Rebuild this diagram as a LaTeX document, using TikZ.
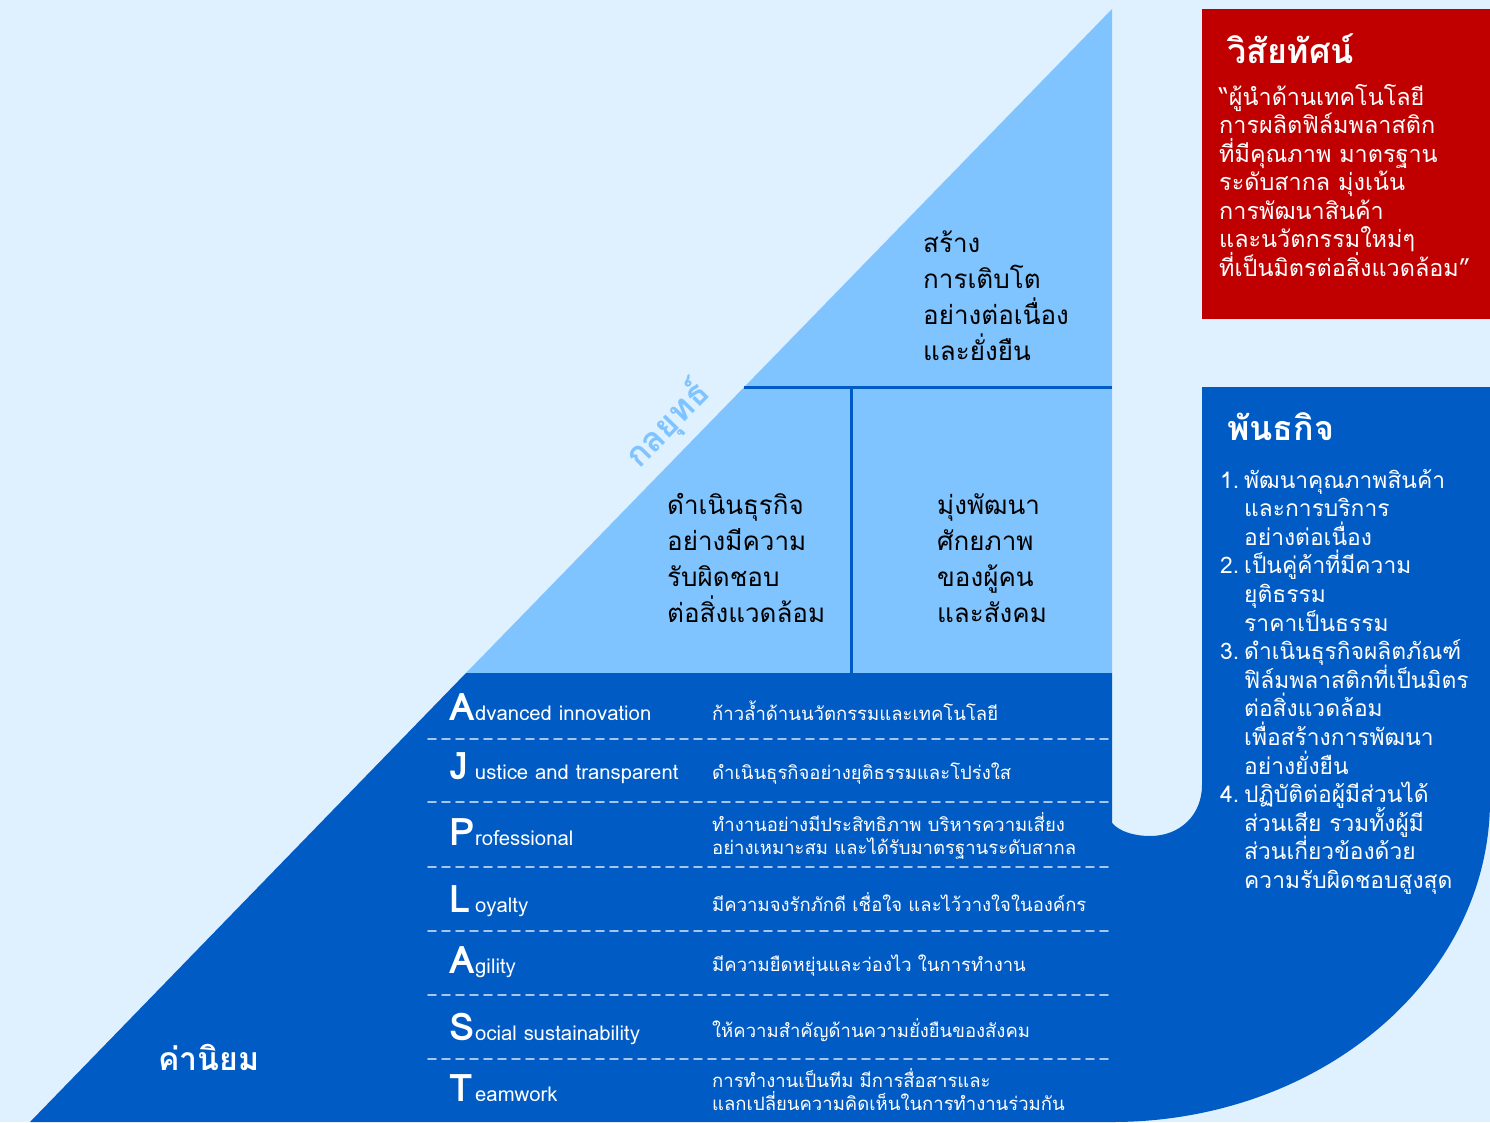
\documentclass[tikz,border=0pt]{standalone}
\usepackage{fontspec}
\setmainfont[Script=Thai]{Loma}
\usetikzlibrary{calc}

\definecolor{pagebg}{HTML}{DFF0FF}
\definecolor{skyblue}{HTML}{80C4FF}
\definecolor{deepblue}{HTML}{005BC4}
\definecolor{visionred}{HTML}{C00000}
\definecolor{dashblue}{HTML}{A6C6EE}

\begin{document}
\begin{tikzpicture}[line cap=round,line join=round,x=1pt,y=-1pt,
    txt/.style={inner sep=0pt, anchor=base west},
    strat/.style={txt, text=black, font=\fontsize{26}{36}\selectfont},
    boxtitle/.style={txt, text=white, font=\fontsize{34}{40}\bfseries\selectfont},
    visionline/.style={txt, text=white, font=\fontsize{23.4}{28}\selectfont},
    boxline/.style={txt, text=white, font=\fontsize{22.8}{28}\selectfont},
    bigletter/.style={txt, text=white, font=\fontsize{38}{40}\bfseries\selectfont},
    smallword/.style={txt, text=white, font=\fontsize{20.3}{24}\selectfont},
    valuedesc/.style={txt, text=white, font=\fontsize{18.5}{24}\selectfont},
    valuesep/.style={dashblue, line width=1.6pt, dash pattern=on 8pt off 6pt}]
    \useasboundingbox (0,0) rectangle (1490,1122);
    \fill[pagebg] (0,0) rectangle (1490,1122);

    % pyramid: light top, dark bottom
    \fill[skyblue] (1112,9) -- (1112,673) -- (466,673) -- cycle;
    \fill[deepblue] (466,673) -- (1112,673) -- (1112,1122) -- (30,1122) -- cycle;
    \draw[deepblue, line width=3pt, line cap=butt] (744,387) -- (1112,387);
    \draw[deepblue, line width=3pt, line cap=butt] (851,387) -- (851,673);

    % mission shape with notch
    \fill[deepblue] (1202,387) -- (1490,387) -- (1490,800)
        .. controls (1490,978) and (1321,1122) .. (1112,1122) -- (1112,823)
        .. controls (1120,832) and (1135,836) .. (1150,836)
        .. controls (1180,836) and (1202,815) .. (1202,785) -- cycle;

    % vision box
    \fill[visionred] (1202,9) rectangle (1490,319);
    \draw (1227,63) node[boxtitle] (vtitle) {วิสัยทัศน์};
    \foreach \txt [count=\i] in {“ผู้นำด้านเทคโนโลยี, การผลิตฟิล์มพลาสติก, ที่มีคุณภาพ มาตรฐาน,
        ระดับสากล มุ่งเน้น, การพัฒนาสินค้า, และนวัตกรรมใหม่ๆ, ที่เป็นมิตรต่อสิ่งแวดล้อม”} {
        \node[visionline] (vline\i) at (1219,{105+28.5*(\i-1)}) {\txt};
    }

    % mission list
    \draw (1227,440) node[boxtitle] (mtitle) {พันธกิจ};
    \foreach \num/\row in {1./1, 2./4, 3./7, 4./12} {
        \node[boxline] (mnum\row) at (1220,{488+28.6*(\row-1)}) {\num};
    }
    \foreach \txt [count=\i] in {พัฒนาคุณภาพสินค้า, และการบริการ, อย่างต่อเนื่อง,
        เป็นคู่ค้าที่มีความ, ยุติธรรม, ราคาเป็นธรรม,
        ดำเนินธุรกิจผลิตภัณฑ์, ฟิล์มพลาสติกที่เป็นมิตร, ต่อสิ่งแวดล้อม, เพื่อสร้างการพัฒนา, อย่างยั่งยืน,
        ปฏิบัติต่อผู้มีส่วนได้, ส่วนเสีย รวมทั้งผู้มี, ส่วนเกี่ยวข้องด้วย, ความรับผิดชอบสูงสุด} {
        \node[boxline] (mline\i) at (1244,{488+28.6*(\i-1)}) {\txt};
    }

    % strategy blocks
    \node[txt, rotate=45.8, anchor=center, text=skyblue, font=\fontsize{34}{40}\bfseries\selectfont]
        (strategy) at (668,425) {กลยุทธ์};
    \foreach \txt [count=\i] in {สร้าง, การเติบโต, อย่างต่อเนื่อง, และยั่งยืน} {
        \node[strat] (grow\i) at (923,{252+36*(\i-1)}) {\txt};
    }
    \foreach \txt [count=\i] in {ดำเนินธุรกิจ, อย่างมีความ, รับผิดชอบ, ต่อสิ่งแวดล้อม} {
        \node[strat] (resp\i) at (667,{514+36*(\i-1)}) {\txt};
    }
    \foreach \txt [count=\i] in {มุ่งพัฒนา, ศักยภาพ, ของผู้คน, และสังคม} {
        \node[strat] (people\i) at (937,{514+36*(\i-1)}) {\txt};
    }

    % values
    \foreach \yy in {739, 802, 867, 931, 995, 1059} {
        \draw[valuesep] (428,\yy) -- (1112,\yy);
    }
    \foreach \ltr/\rest/\yb [count=\i] in {A/dvanced innovation/720, J/ustice and transparent/779,
        P/rofessional/845, L/oyalty/912, A/gility/973, S/ocial sustainability/1040, T/eamwork/1101} {
        \node[bigletter] (ltr\i) at (449,\yb) {\ltr};
        \node[smallword] (word\i) at (475,\yb) {\rest};
    }
    \foreach \yb/\desc [count=\i] in {720/ก้าวล้ำด้านนวัตกรรมและเทคโนโลยี, 779/ดำเนินธุรกิจอย่างยุติธรรมและโปร่งใส,
        831/ทำงานอย่างมีประสิทธิภาพ บริหารความเสี่ยง, 854/อย่างเหมาะสม และได้รับมาตรฐานระดับสากล,
        911/มีความจงรักภักดี เชื่อใจ และไว้วางใจในองค์กร, 971/มีความยืดหยุ่นและว่องไว ในการทำงาน,
        1037/ให้ความสำคัญด้านความยั่งยืนของสังคม, 1087/การทำงานเป็นทีม มีการสื่อสารและ,
        1110/แลกเปลี่ยนความคิดเห็นในการทำงานร่วมกัน} {
        \node[valuedesc] (desc\i) at (712,\yb) {\desc};
    }
    \draw (158,1070) node[txt, text=white, font=\fontsize{32}{36}\bfseries\selectfont] (values) {ค่านิยม};
\end{tikzpicture}
\end{document}
